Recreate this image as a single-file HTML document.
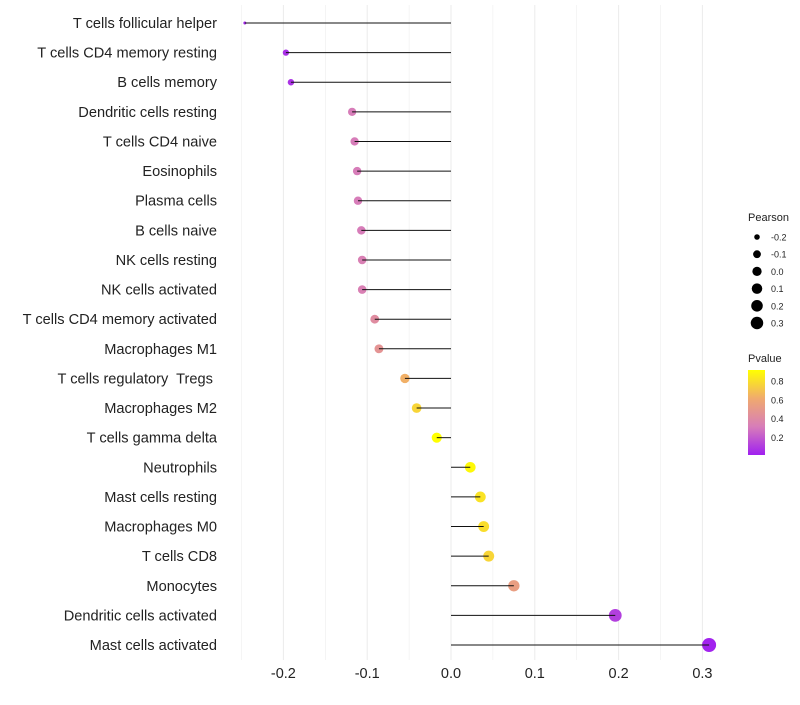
<!DOCTYPE html>
<html><head><meta charset="utf-8"><style>
body{margin:0;background:#fff;font-family:"Liberation Sans",sans-serif}
text{white-space:pre}
</style></head><body>
<svg id="c" width="800" height="700" xmlns="http://www.w3.org/2000/svg"></svg>
<script>
const categories=["T cells follicular helper","T cells CD4 memory resting","B cells memory","Dendritic cells resting","T cells CD4 naive","Eosinophils","Plasma cells","B cells naive","NK cells resting","NK cells activated","T cells CD4 memory activated","Macrophages M1","T cells regulatory  Tregs ","Macrophages M2","T cells gamma delta","Neutrophils","Mast cells resting","Macrophages M0","T cells CD8","Monocytes","Dendritic cells activated","Mast cells activated"];
const pearson=[-0.246,-0.197,-0.191,-0.118,-0.115,-0.112,-0.111,-0.107,-0.106,-0.106,-0.091,-0.086,-0.055,-0.041,-0.017,0.023,0.035,0.039,0.045,0.075,0.196,0.308];
const pvalue=[0.02,0.05,0.06,0.3,0.3,0.3,0.3,0.3,0.32,0.32,0.4,0.45,0.62,0.75,0.9,0.88,0.8,0.78,0.75,0.52,0.1,0.01];
const xTicks=[-0.2,-0.1,0.0,0.1,0.2,0.3];
const sizeTicks=[-0.2,-0.1,0.0,0.1,0.2,0.3];
const colorTicks=[0.2,0.4,0.6,0.8];
const svg=document.getElementById('c');const NS="http://www.w3.org/2000/svg";
function mk(t,a,p){const e=document.createElementNS(NS,t);for(const k in a)e.setAttribute(k,a[k]);(p||svg).appendChild(e);return e;}
const X=v=>451+v*838;
const Y=i=>23+i*(622/21);
const R=v=>1.5+5.5*Math.sqrt(Math.max(0,(v+0.246)/0.554));
const stops=[[0,[160,32,240]],[0.3,[215,125,185]],[0.6,[240,170,110]],[0.9,[255,255,0]]];
function col(p){p=Math.max(0,Math.min(0.9,p));for(let i=0;i<stops.length-1;i++){const[a,ca]=stops[i],[b,cb]=stops[i+1];if(p<=b){const t=(p-a)/(b-a);return 'rgb('+ca.map((c,j)=>Math.round(c+(cb[j]-c)*t)).join(',')+')';}}}
for(let v=-0.25;v<=0.31;v+=0.05){const g=mk('line',{x1:X(v),x2:X(v),y1:5,y2:660,stroke:'#ebebeb','stroke-width':Math.abs(Math.round(v*100))%10===0?1:0.5});}
xTicks.forEach(v=>{const t=mk('text',{x:X(v),y:678,'text-anchor':'middle','font-size':14.5,fill:'#222'});t.textContent=v.toFixed(1);});
categories.forEach((c,i)=>{
const t=mk('text',{x:217,y:Y(i)+5,'text-anchor':'end','font-size':14.6,fill:'#222'});t.textContent=c;
const d=mk('circle',{cx:X(pearson[i]),cy:Y(i),r:R(pearson[i]),fill:col(pvalue[i])});
const l=mk('line',{x1:X(0),x2:X(pearson[i]),y1:Y(i),y2:Y(i),stroke:'#111','stroke-width':1});
});
let t=mk('text',{x:748,y:221,'font-size':11,fill:'#222'});t.textContent='Pearson';
sizeTicks.forEach((v,i)=>{const y=237+i*17.2;const c=mk('circle',{cx:757,cy:y,r:R(v)*0.9,fill:'#000'});
const tt=mk('text',{x:771,y:y+3.5,'font-size':9,fill:'#222'});tt.textContent=v.toFixed(1);});
t=mk('text',{x:748,y:362,'font-size':11,fill:'#222'});t.textContent='Pvalue';
const defs=mk('defs',{});const gr=mk('linearGradient',{id:'g',x1:0,y1:1,x2:0,y2:0},defs);
stops.forEach(s=>mk('stop',{offset:s[0]/0.9,'stop-color':col(s[0])},gr));
const bar=mk('rect',{x:748,y:370,width:17,height:85,fill:'url(#g)'});
const PY=p=>455-p/0.9*85+2;
colorTicks.forEach(v=>{const tt=mk('text',{x:771,y:PY(v)+3,'font-size':9,fill:'#222'});tt.textContent=v.toFixed(1);});
</script>
</body></html>
